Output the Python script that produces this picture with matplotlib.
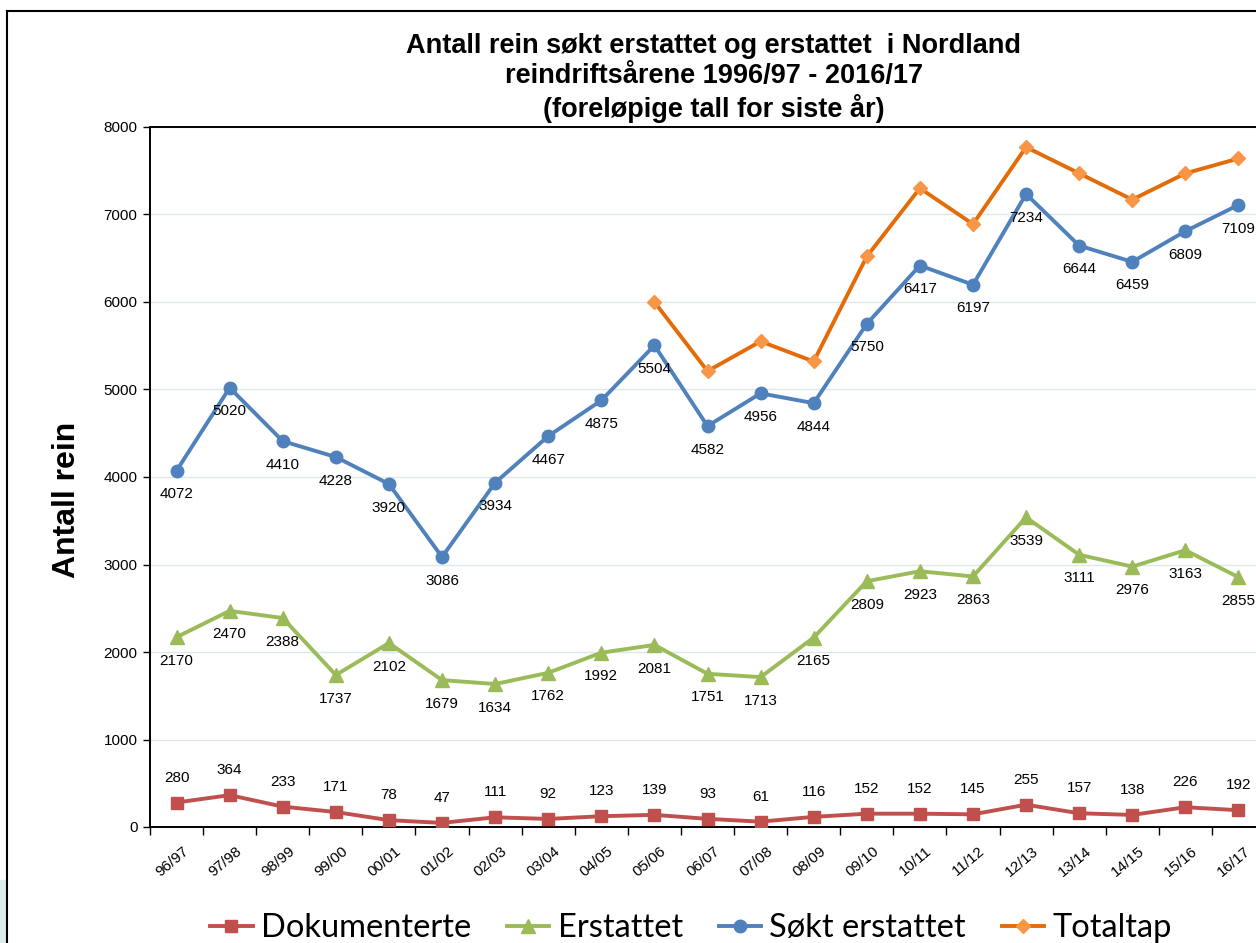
import matplotlib.pyplot as plt
import matplotlib.transforms as mtransforms
from matplotlib.lines import Line2D
from matplotlib.patches import Rectangle

plt.rcParams['font.family'] = ['Liberation Sans', 'DejaVu Sans']

# ---- data ----
seasons = ["96/97", "97/98", "98/99", "99/00", "00/01", "01/02", "02/03", "03/04",
           "04/05", "05/06", "06/07", "07/08", "08/09", "09/10", "10/11", "11/12",
           "12/13", "13/14", "14/15", "15/16", "16/17"]
dokumenterte = [280, 364, 233, 171, 78, 47, 111, 92, 123, 139, 93, 61, 116,
                152, 152, 145, 255, 157, 138, 226, 192]
erstattet = [2170, 2470, 2388, 1737, 2102, 1679, 1634, 1762, 1992, 2081, 1751,
             1713, 2165, 2809, 2923, 2863, 3539, 3111, 2976, 3163, 2855]
sokt = [4072, 5020, 4410, 4228, 3920, 3086, 3934, 4467, 4875, 5504, 4582, 4956,
        4844, 5750, 6417, 6197, 7234, 6644, 6459, 6809, 7109]
# Totaltap starts at 05/06
totaltap_start = 9
totaltap = [6000, 5210, 5550, 5320, 6520, 7300, 6890, 7770, 7470, 7170, 7470, 7640]

x = list(range(len(seasons)))
x_tot = x[totaltap_start:]

fig = plt.figure(figsize=(12.56, 9.43), dpi=100)
ax = fig.add_axes([150 / 1256, 116 / 943, 1115 / 1256, 700 / 943])

ax.plot(x, dokumenterte, color="#C0504D", lw=2.8, marker="s", ms=9,
        label="Dokumenterte", zorder=3)
ax.plot(x, erstattet, color="#9BBB59", lw=2.8, marker="^", ms=9.5,
        label="Erstattet", zorder=3)
ax.plot(x, sokt, color="#4F81BD", lw=2.8, marker="o", ms=9,
        label="Søkt erstattet", zorder=3)
ax.plot(x_tot, totaltap, color="#E36C09", lw=2.8, marker="D", ms=7.5,
        mfc="#F79646", mec="#F79646", label="Totaltap", zorder=3)

# data labels
for xi, v in zip(x, dokumenterte):
    ax.annotate(str(v), (xi, v), xytext=(0, 18), textcoords="offset points",
                ha="center", va="center", fontsize=11)
for xi, v in zip(x, erstattet):
    ax.annotate(str(v), (xi, v), xytext=(0, -17), textcoords="offset points",
                ha="center", va="center", fontsize=11)
for xi, v in zip(x, sokt):
    ax.annotate(str(v), (xi, v), xytext=(0, -17), textcoords="offset points",
                ha="center", va="center", fontsize=11)

ax.set_xlim(-0.5, len(seasons) - 0.5)
ax.set_ylim(0, 8000)
ax.set_yticks(range(0, 8001, 1000))
ax.set_yticklabels([str(v) for v in range(0, 8001, 1000)], fontsize=11)
ax.tick_params(axis="y", direction="out", length=5, width=1, pad=4)

ax.set_xticks(x)
ax.set_xticklabels(seasons, rotation=40, ha="right", va="top",
                   rotation_mode="anchor", fontsize=11)
ax.tick_params(axis="x", which="major", length=0, pad=12)
shift = mtransforms.ScaledTranslation(4 / 72, 0, fig.dpi_scale_trans)
for lbl in ax.get_xticklabels():
    lbl.set_transform(lbl.get_transform() + shift)
ax.set_xticks([i - 0.5 for i in range(len(seasons) + 1)], minor=True)
ax.tick_params(axis="x", which="minor", direction="out", length=6, width=1)

ax.grid(axis="y", color="#DCE8EA", lw=1)
ax.set_axisbelow(True)
for s in ["left", "bottom", "top"]:
    ax.spines[s].set_color("black")
    ax.spines[s].set_linewidth(1.4)
ax.spines["right"].set_visible(False)

ax.set_ylabel("Antall rein", fontsize=23, fontweight="bold")
ax.yaxis.set_label_coords(-0.061, 0.467)

fig.text(714 / 1256, 1 - 78 / 943,
         "Antall rein søkt erstattet og erstattet  i Nordland\n"
         "reindriftsårene 1996/97 - 2016/17\n(foreløpige tall for siste år)",
         ha="center", va="center", fontsize=19.5, fontweight="bold",
         linespacing=1.22)

leg = fig.legend(loc="center", bbox_to_anchor=(691 / 1256, 15 / 943), ncol=4,
                 frameon=False, handlelength=1.3, handletextpad=0.25,
                 columnspacing=1.1, prop={"family": "Lato", "size": 23.5})

# slide frame
fig.add_artist(Line2D([7 / 1256, 7 / 1256], [0, 1 - 11 / 943], color="black", lw=1.5))
fig.add_artist(Line2D([7 / 1256, 1], [1 - 11 / 943, 1 - 11 / 943], color="black", lw=1.5))
fig.add_artist(Rectangle((0, 0), 6 / 1256, 63 / 943, color="#DCEBEB",
                         transform=fig.transFigure))

fig.savefig("out.png", dpi=100)
